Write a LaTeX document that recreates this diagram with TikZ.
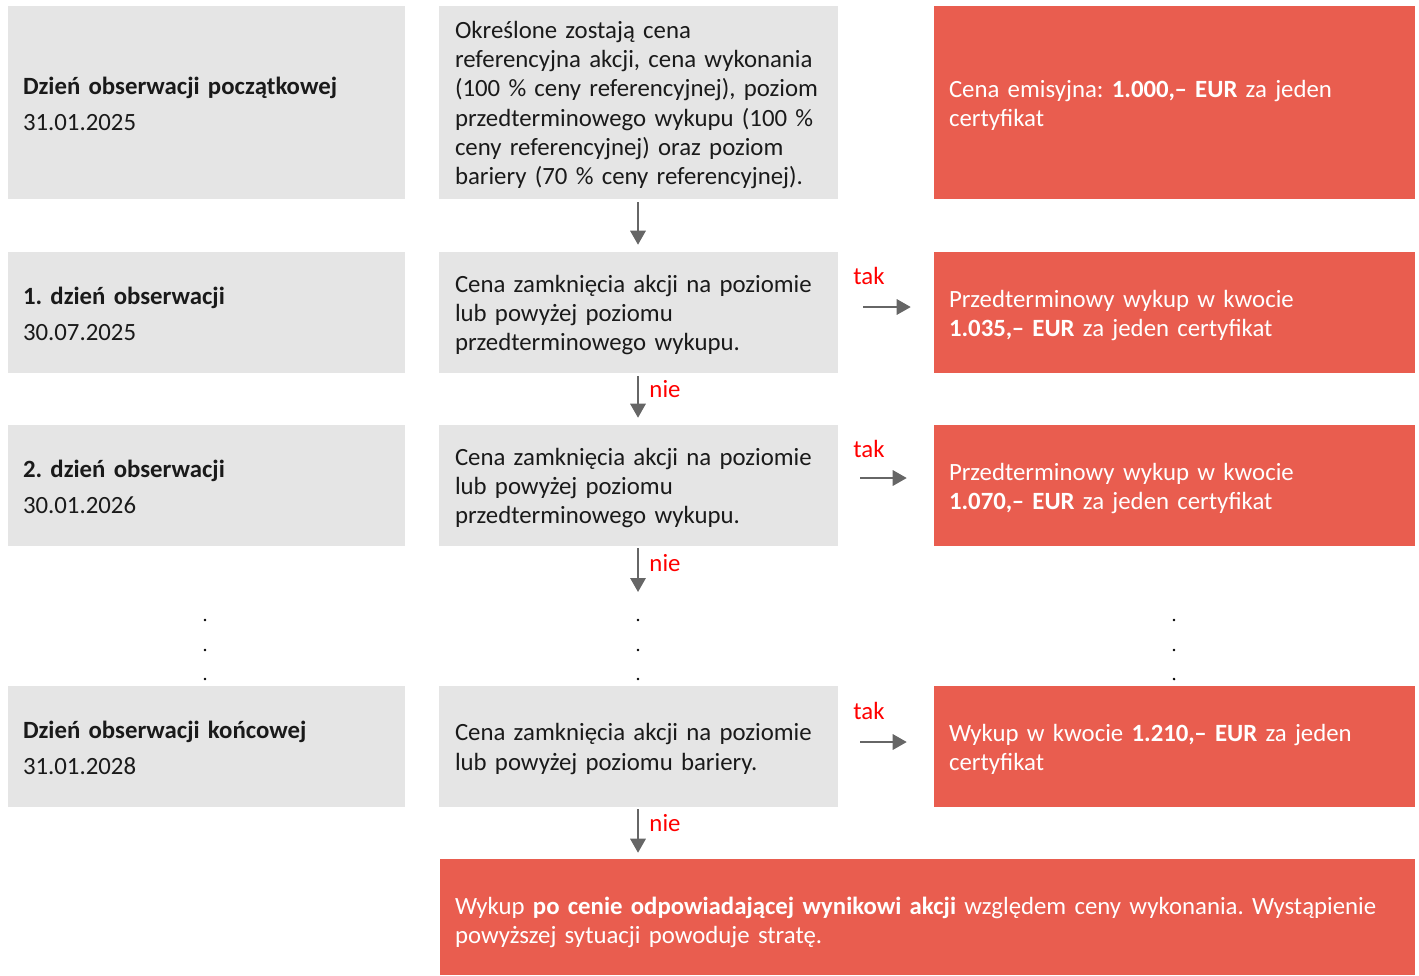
\documentclass[tikz,border=0pt]{standalone}
\usepackage{fontspec}
\setmainfont{Carlito}
\usetikzlibrary{arrows.meta}
\definecolor{boxgray}{HTML}{E5E5E5}
\definecolor{boxred}{HTML}{E95D4F}
\definecolor{arrgray}{HTML}{666666}
\definecolor{lblred}{HTML}{FF0000}
\definecolor{txt}{HTML}{1A1A1A}
\frenchspacing
\begin{document}
\begin{tikzpicture}[x=0.75pt,y=-0.75pt,
  every node/.style={font=\fontsize{18.6}{22}\selectfont},
  leftbox/.style={fill=boxgray,draw=none,minimum width=297.75pt,minimum height=90.75pt,inner sep=0pt},
  midbox/.style={fill=boxgray,draw=none,minimum width=299.25pt,minimum height=90.75pt,inner sep=0pt},
  redbox/.style={fill=boxred,draw=none,minimum width=360.75pt,minimum height=90.75pt,inner sep=0pt},
  lefttxt/.style={inner sep=0pt,text width=275.25pt,align=left,text=txt,yshift=-0.75pt},
  midtxt/.style={inner sep=0pt,text width=275.25pt,align=left,text=txt,yshift=-1.9pt},
  redtxt/.style={inner sep=0pt,text width=338.25pt,align=left,text=white,yshift=-2.25pt},
  bottxt/.style={inner sep=0pt,text width=708.75pt,align=left,text=white,yshift=-4.1pt},
  flow/.style={draw=arrgray,line width=1.6pt,-{Triangle[width=11.5pt,length=10.5pt]}},
  lbl/.style={text=lblred,inner sep=0pt},
  dotmark/.style={circle,fill=black,inner sep=0pt,minimum size=2.2pt}
]
\useasboundingbox (0,0) rectangle (1419,975);
% row 0
\node[leftbox,minimum height=144.75pt] (l0) at (206.5,102.5) {};
\node[lefttxt] (l0t) at (l0.center) {\textbf{Dzień obserwacji początkowej}\\[5pt]31.01.2025};
\node[midbox,minimum height=144.75pt] (m0) at (638.5,102.5) {};
\node[midtxt] (m0t) at (m0.center) {Określone zostają cena\\referencyjna akcji, cena wykonania\\(100 \% ceny referencyjnej), poziom\\przedterminowego wykupu (100 \%\\ceny referencyjnej) oraz poziom\\bariery (70 \% ceny referencyjnej).};
\node[redbox,minimum height=144.75pt] (r0) at (1174.5,102.5) {};
\node[redtxt] (r0t) at (r0.center) {Cena emisyjna: \textbf{1.000,– EUR} za jeden\\certyfikat};
% row 1
\node[leftbox] (l1) at (206.5,312.5) {};
\node[lefttxt] (l1t) at (l1.center) {\textbf{1. dzień obserwacji}\\[5pt]30.07.2025};
\node[midbox] (m1) at (638.5,312.5) {};
\node[midtxt] (m1t) at (m1.center) {Cena zamknięcia akcji na poziomie\\lub powyżej poziomu\\przedterminowego wykupu.};
\node[redbox] (r1) at (1174.5,312.5) {};
\node[redtxt] (r1t) at (r1.center) {Przedterminowy wykup w kwocie\\\textbf{1.035,– EUR} za jeden certyfikat};
% row 2
\node[leftbox] (l2) at (206.5,485.5) {};
\node[lefttxt] (l2t) at (l2.center) {\textbf{2. dzień obserwacji}\\[5pt]30.01.2026};
\node[midbox] (m2) at (638.5,485.5) {};
\node[midtxt] (m2t) at (m2.center) {Cena zamknięcia akcji na poziomie\\lub powyżej poziomu\\przedterminowego wykupu.};
\node[redbox] (r2) at (1174.5,485.5) {};
\node[redtxt] (r2t) at (r2.center) {Przedterminowy wykup w kwocie\\\textbf{1.070,– EUR} za jeden certyfikat};
% row 3
\node[leftbox] (l3) at (206.5,746.5) {};
\node[lefttxt] (l3t) at (l3.center) {\textbf{Dzień obserwacji końcowej}\\[5pt]31.01.2028};
\node[midbox] (m3) at (638.5,746.5) {};
\node[midtxt] (m3t) at (m3.center) {Cena zamknięcia akcji na poziomie\\lub powyżej poziomu bariery.};
\node[redbox] (r3) at (1174.5,746.5) {};
\node[redtxt] (r3t) at (r3.center) {Wykup w kwocie \textbf{1.210,– EUR} za jeden\\certyfikat};
% bottom
\node[redbox,minimum width=731.25pt,minimum height=87pt] (bot) at (927.5,917) {};
\node[bottxt] (bott) at (bot.center) {Wykup \textbf{po cenie odpowiadającej wynikowi akcji} względem ceny wykonania. Wystąpienie\\powyższej sytuacji powoduje stratę.};
% dots
\foreach \x/\n in {205/a,638/b,1174/c}{
  \node[dotmark] (d\n1) at (\x,620) {};
  \node[dotmark] (d\n2) at (\x,650) {};
  \node[dotmark] (d\n3) at (\x,679) {};
}
\coordinate (e2) at (638,592);
% vertical arrows
\draw[flow,shorten <=2.25pt,shorten >=5.25pt] (m0.south -| 638,0) -- (m1.north -| 638,0);
\draw[flow,shorten <=2.25pt,shorten >=5.25pt] (m1.south -| 638,0) -- (m2.north -| 638,0);
\draw[flow,shorten <=1.5pt] (m2.south -| 638,0) -- (e2);
\draw[flow,shorten <=1.5pt,shorten >=4.5pt] (m3.south -| 638,0) -- (bot.north -| 638,0);
% horizontal arrows
\draw[flow,shorten <=18.75pt,shorten >=17.25pt] (m1.east |- 0,307) -- (r1.west |- 0,307);
\draw[flow,shorten <=16.5pt,shorten >=20.25pt] (m2.east |- 0,478) -- (r2.west |- 0,478);
\draw[flow,shorten <=16.5pt,shorten >=20.25pt] (m3.east |- 0,742) -- (r3.west |- 0,742);
% labels
\node[lbl] (t1) at (869,276) {tak};
\node[lbl] (t2) at (869,449) {tak};
\node[lbl] (t3) at (869,711) {tak};
\node[lbl] (n1) at (665,389) {nie};
\node[lbl] (n2) at (665,563) {nie};
\node[lbl] (n3) at (665,823) {nie};
\end{tikzpicture}
\end{document}
